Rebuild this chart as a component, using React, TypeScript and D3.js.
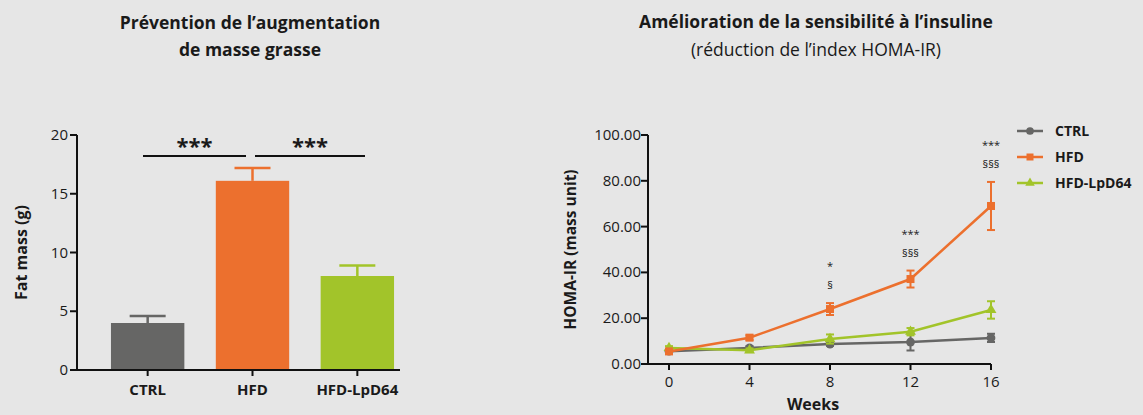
import React from "react";
import * as d3 from "d3";

const groups = ["CTRL", "HFD", "HFD-LpD64"];
const fatMass = [4.0, 16.1, 8.0];
const fatMassErr = [0.6, 1.1, 0.9];
const fatTicks = [0, 5, 10, 15, 20];

const weeks = [0, 4, 8, 12, 16];
const homaCtrl = [5.6, 7.0, 8.7, 9.6, 11.4];
const homaCtrlErr = [0.8, 0.8, 0.8, 3.7, 1.8];
const homaHfd = [5.5, 11.5, 24.0, 37.1, 69.0];
const homaHfdErr = [1.0, 1.0, 2.6, 3.7, 10.5];
const homaLpd = [7.0, 6.0, 10.9, 14.1, 23.6];
const homaLpdErr = [0.8, 0.8, 2.0, 1.6, 3.8];
const homaTicks = [0, 20, 40, 60, 80, 100];
const starLabels = ["", "", "*", "***", "***"];
const sectLabels = ["", "", "§", "§§§", "§§§"];

const colors = { CTRL: "#666665", HFD: "#ec702e", LPD: "#a2c42a" };
const FONT = "'Open Sans', sans-serif";

export default function App() {
  // Left chart
  const yL = d3.scaleLinear().domain([0, 20]).range([370, 135]);
  const xL = d3.scaleBand().domain(groups).range([90, 415]).paddingInner(0.3).paddingOuter(0.2);
  const barColors = [colors.CTRL, colors.HFD, colors.LPD];

  // Right chart
  const xR = d3.scaleLinear().domain([0, 16]).range([669, 991]);
  const yR = d3.scaleLinear().domain([0, 100]).range([364, 135]);
  const line = d3
    .line<number>()
    .x((_, i) => xR(weeks[i]))
    .y((d) => yR(d));

  const series = [
    { name: "CTRL", vals: homaCtrl, err: homaCtrlErr, color: colors.CTRL, shape: "circle" },
    { name: "HFD-LpD64", vals: homaLpd, err: homaLpdErr, color: colors.LPD, shape: "triangle" },
    { name: "HFD", vals: homaHfd, err: homaHfdErr, color: colors.HFD, shape: "square" },
  ];
  const legendOrder = [series[0], series[2], series[1]];

  const marker = (shape: string, x: number, y: number, color: string, s: number) => {
    if (shape === "circle") return <circle cx={x} cy={y} r={s * 0.55} fill={color} />;
    if (shape === "square")
      return <rect x={x - s / 2} y={y - s / 2} width={s} height={s} fill={color} />;
    const sym = d3.symbol(d3.symbolTriangle, s * s * 0.8)();
    return <path d={sym || ""} transform={`translate(${x},${y})`} fill={color} />;
  };

  const cx = (g: string) => (xL(g) as number) + xL.bandwidth() / 2;

  return (
    <svg width={1143} height={415} style={{ display: "block", position: "absolute", left: 0, top: 0 }}>
      <rect width={1143} height={415} fill="#e6e6e6" />

      {/* Titles */}
      <g fontFamily={FONT} fill="#1a1a1a" textAnchor="middle">
        <text x={250} y={29} fontSize={17.5} fontWeight={700}>Prévention de l’augmentation</text>
        <text x={250} y={56} fontSize={17.5} fontWeight={700}>de masse grasse</text>
        <text x={816} y={28} fontSize={17.5} fontWeight={700}>Amélioration de la sensibilité à l’insuline</text>
        <text x={816} y={56} fontSize={17.5}>(réduction de l’index HOMA-IR)</text>
      </g>

      {/* Left chart */}
      <g fontFamily={FONT} fill="#1a1a1a">
        {groups.map((g, i) => {
          const x0 = xL(g) as number;
          const c = cx(g);
          return (
            <g key={g}>
              <rect x={x0} y={yL(fatMass[i])} width={xL.bandwidth()} height={yL(0) - yL(fatMass[i])} fill={barColors[i]} />
              <line x1={c} x2={c} y1={yL(fatMass[i])} y2={yL(fatMass[i] + fatMassErr[i])} stroke={barColors[i]} strokeWidth={2.5} />
              <line x1={c - 18} x2={c + 18} y1={yL(fatMass[i] + fatMassErr[i])} y2={yL(fatMass[i] + fatMassErr[i])} stroke={barColors[i]} strokeWidth={2.5} />
              <line x1={c} x2={c} y1={yL(0)} y2={yL(0) + 6} stroke="#111" strokeWidth={2} />
              <text x={c} y={yL(0) + 25} textAnchor="middle" fontSize={15} fontWeight={700}>{g}</text>
            </g>
          );
        })}
        <line x1={77} x2={77} y1={yL(20)} y2={yL(0)} stroke="#111" strokeWidth={2} />
        <line x1={76} x2={400} y1={yL(0)} y2={yL(0)} stroke="#111" strokeWidth={2} />
        {fatTicks.map((t) => (
          <g key={t}>
            <line x1={70} x2={77} y1={yL(t)} y2={yL(t)} stroke="#111" strokeWidth={2} />
            <text x={68} y={yL(t) + 5} textAnchor="end" fontSize={15}>{t}</text>
          </g>
        ))}
        <text transform={`translate(27,${(yL(0) + yL(20)) / 2}) rotate(-90)`} textAnchor="middle" fontSize={16} fontWeight={700}>Fat mass (g)</text>
        {/* significance */}
        <line x1={143} x2={246} y1={156} y2={156} stroke="#111" strokeWidth={2} />
        <line x1={255} x2={365} y1={156} y2={156} stroke="#111" strokeWidth={2} />
        <text x={194.5} y={154} textAnchor="middle" fontSize={22} fontWeight={700}>***</text>
        <text x={310} y={154} textAnchor="middle" fontSize={22} fontWeight={700}>***</text>
      </g>

      {/* Right chart */}
      <g fontFamily={FONT} fill="#1a1a1a">
        <line x1={648} x2={648} y1={yR(100)} y2={yR(0)} stroke="#111" strokeWidth={2} />
        <line x1={647} x2={991} y1={yR(0)} y2={yR(0)} stroke="#111" strokeWidth={2} />
        {homaTicks.map((t) => (
          <g key={t}>
            <line x1={641} x2={648} y1={yR(t)} y2={yR(t)} stroke="#111" strokeWidth={2} />
            <text x={641} y={yR(t) + 5} textAnchor="end" fontSize={15}>{t.toFixed(2)}</text>
          </g>
        ))}
        {weeks.map((w) => (
          <g key={w}>
            <line x1={xR(w)} x2={xR(w)} y1={yR(0)} y2={yR(0) + 6} stroke="#111" strokeWidth={2} />
            <text x={xR(w)} y={yR(0) + 23} textAnchor="middle" fontSize={15}>{w}</text>
          </g>
        ))}
        <text x={813} y={410} textAnchor="middle" fontSize={16} fontWeight={700}>Weeks</text>
        <text transform={`translate(576,${(yR(0) + yR(100)) / 2}) rotate(-90)`} textAnchor="middle" fontSize={15.5} fontWeight={700}>HOMA-IR (mass unit)</text>

        {series.map((s) => (
          <g key={s.name}>
            <path d={line(s.vals) || ""} fill="none" stroke={s.color} strokeWidth={2.5} />
            {s.vals.map((v, i) => {
              const x = xR(weeks[i]);
              const hi = yR(v + s.err[i]);
              const lo = yR(v - s.err[i]);
              return (
                <g key={i}>
                  <line x1={x} x2={x} y1={hi} y2={lo} stroke={s.color} strokeWidth={2} />
                  <line x1={x - 4} x2={x + 4} y1={hi} y2={hi} stroke={s.color} strokeWidth={2} />
                  <line x1={x - 4} x2={x + 4} y1={lo} y2={lo} stroke={s.color} strokeWidth={2} />
                  {marker(s.shape, x, yR(v), s.color, 8)}
                </g>
              );
            })}
          </g>
        ))}

        {weeks.map((w, i) => {
          const top = yR(homaHfd[i] + homaHfdErr[i]);
          return (
            <g key={w}>
              {starLabels[i] && (
                <text x={xR(w)} y={top - 33} textAnchor="middle" fontSize={11}>{starLabels[i]}</text>
              )}
              {sectLabels[i] && (
                <text x={xR(w)} y={top - 14} textAnchor="middle" fontSize={11}>{sectLabels[i]}</text>
              )}
            </g>
          );
        })}

        {legendOrder.map((s, i) => {
          const y = 131 + i * 26;
          return (
            <g key={s.name}>
              <line x1={1017} x2={1043} y1={y} y2={y} stroke={s.color} strokeWidth={2.5} />
              {marker(s.shape, 1030, y, s.color, 7)}
              <text x={1055} y={y + 5} fontSize={14} fontWeight={700}>{s.name}</text>
            </g>
          );
        })}
      </g>
    </svg>
  );
}
